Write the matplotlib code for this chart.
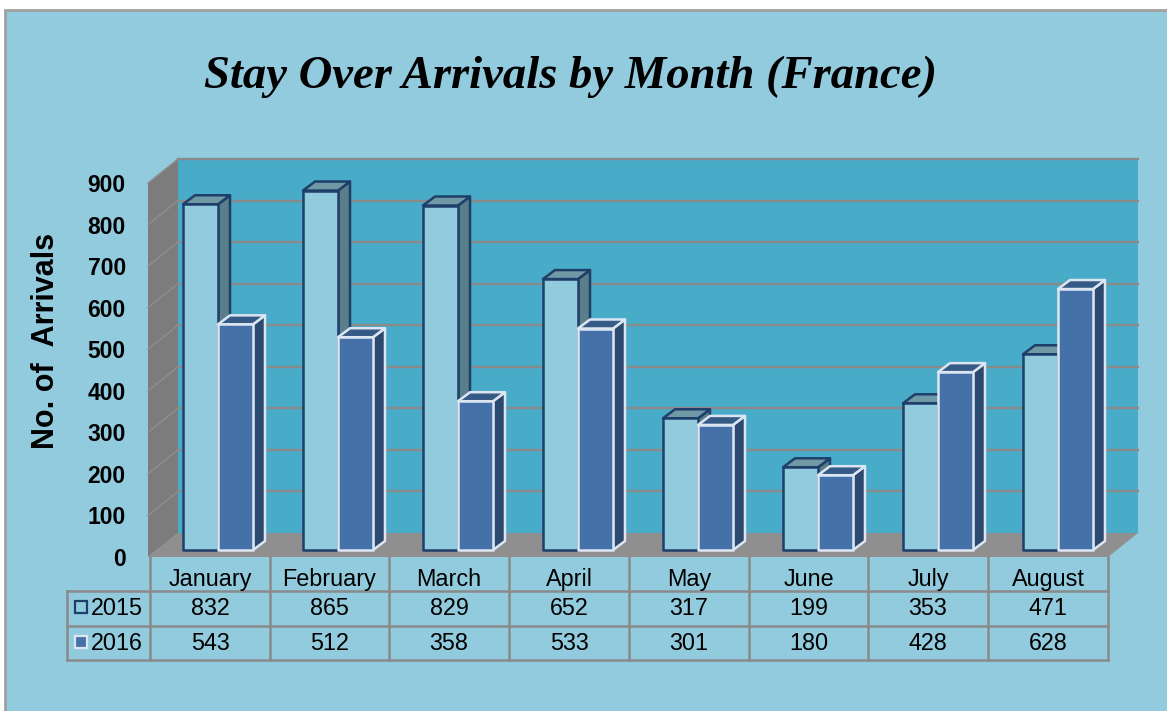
import matplotlib
matplotlib.use("Agg")
import matplotlib.pyplot as plt
from matplotlib.patches import Polygon, Rectangle

months = ["January", "February", "March", "April", "May", "June", "July", "August"]
arrivals_2015 = [832, 865, 829, 652, 317, 199, 353, 471]
arrivals_2016 = [543, 512, 358, 533, 301, 180, 428, 628]
y_ticks = [0, 100, 200, 300, 400, 500, 600, 700, 800, 900]

BG = "#92CBDD"
WALL = "#48ACC9"
GREY = "#8A8A8A"

plt.rcParams["font.family"] = ["Liberation Sans", "DejaVu Sans"]

W, H = 1167, 711
fig = plt.figure(figsize=(W / 100, H / 100), dpi=100, facecolor="white")

# overlay in pixels for the frame and the table
bg = fig.add_axes([0, 0, 1, 1], zorder=0)
bg.set_xlim(0, W)
bg.set_ylim(H, 0)
bg.axis("off")
bg.add_patch(Rectangle((5, 9.5), W + 10, H, fc=BG, ec="#A0A0A0", lw=2))

# chart axes sit on the front plane of the 3d box
left, right, bottom, top = 148, 1108, 557, 183
ax = fig.add_axes([left / W, 1 - bottom / H, (right - left) / W, (bottom - top) / H], zorder=1)
ax.set_xlim(0, 8)
ax.set_ylim(0, 900)
ax.patch.set_alpha(0)
for s in ax.spines.values():
    s.set_visible(False)
ax.set_xticks([])
ax.set_yticks(y_ticks)
ax.set_yticklabels([str(v) for v in y_ticks], fontsize=16.5, fontweight="bold")
ax.tick_params(axis="y", length=0, pad=16)

px_x = 8 / (right - left)
px_y = 900 / (bottom - top)
box_dx, box_dy = 30 * px_x, 24 * px_y
bar_dx, bar_dy = 12 * px_x, 9 * px_y
bar_w = 35 * px_x
bar_start = 35 * px_x
base = 7 * px_y


def poly(pts, **kw):
    ax.add_patch(Polygon(pts, closed=True, clip_on=False, **kw))


# walls and floor
poly([(box_dx, box_dy), (8 + box_dx, box_dy), (8 + box_dx, 900 + box_dy), (box_dx, 900 + box_dy)], fc=WALL, ec="none", zorder=1)
poly([(0, 0), (box_dx, box_dy), (box_dx, 900 + box_dy), (0, 900)], fc="#7C7C7C", ec="none", zorder=1)
poly([(0, 0), (8, 0), (8 + box_dx, box_dy), (box_dx, box_dy)], fc="#8F8F8F", ec="none", zorder=1)
for v in y_ticks[1:]:
    ax.plot([box_dx, 8 + box_dx], [v + box_dy, v + box_dy], color=GREY, lw=1.7, clip_on=False, zorder=2)
    ax.plot([0, box_dx], [v, v + box_dy], color="#8E8E8E", lw=1, clip_on=False, zorder=2)


def bar3d(x, v, face, top_c, side_c, edge, z):
    y0, y1 = base, base + v
    x1 = x + bar_w
    poly([(x1, y0), (x1 + bar_dx, y0 + bar_dy), (x1 + bar_dx, y1 + bar_dy), (x1, y1)], fc=side_c, ec=edge, lw=1.8, zorder=z, joinstyle="round")
    poly([(x, y1), (x1, y1), (x1 + bar_dx, y1 + bar_dy), (x + bar_dx, y1 + bar_dy)], fc=top_c, ec=edge, lw=1.8, zorder=z, joinstyle="round")
    poly([(x, y0), (x1, y0), (x1, y1), (x, y1)], fc=face, ec=edge, lw=1.8, zorder=z, joinstyle="round")


for i in range(len(months)):
    x = i + bar_start
    bar3d(x, arrivals_2015[i], BG, "#7099A6", "#5B7F8A", "#1F3F6B", 3 + i * 0.1)
    bar3d(x + bar_w, arrivals_2016[i], "#4472A8", "#355A85", "#2C4A70", "#DCE6F2", 3.05 + i * 0.1)

# title and axis label
fig.text(571 / W, 1 - 77 / H, "Stay Over Arrivals by Month (France)", family=["Liberation Serif"],
         fontsize=33.6, fontweight="bold", fontstyle="italic", ha="center", va="center")
fig.text(46 / W, 1 - 341 / H, "No. of  Arrivals", fontsize=22, fontweight="bold", rotation=90,
         ha="center", va="center")

# data table
tb = fig.add_axes([0, 0, 1, 1], zorder=2)
tb.set_xlim(0, W)
tb.set_ylim(H, 0)
tb.axis("off")
col_x = [150, 270, 389, 509, 629, 749, 868, 988, 1108]
row_y = [557, 591, 626, 660]
for cx in col_x:
    tb.plot([cx, cx], [row_y[0], row_y[-1]], color=GREY, lw=1.8)
for ry in row_y[1:]:
    tb.plot([67, 1108], [ry, ry], color=GREY, lw=1.8)
tb.plot([67, 67], [row_y[1], row_y[-1]], color=GREY, lw=1.8)

for i, m in enumerate(months):
    cx = (col_x[i] + col_x[i + 1]) / 2
    tb.text(cx, 586, m, fontsize=16.8, ha="center", va="baseline")
    tb.text(cx, 615, str(arrivals_2015[i]), fontsize=16.8, ha="center", va="baseline")
    tb.text(cx, 650, str(arrivals_2016[i]), fontsize=16.8, ha="center", va="baseline")

tb.text(91, 615, "2015", fontsize=16.8, ha="left", va="baseline")
tb.text(91, 650, "2016", fontsize=16.8, ha="left", va="baseline")
tb.add_patch(Rectangle((75, 601), 12, 12, fc=BG, ec="#1F3F6B", lw=1.6))
tb.add_patch(Rectangle((75, 636), 12, 12, fc="#4472A8", ec="#DCE6F2", lw=1.6))

fig.savefig("out.png", dpi=100, facecolor="white")
